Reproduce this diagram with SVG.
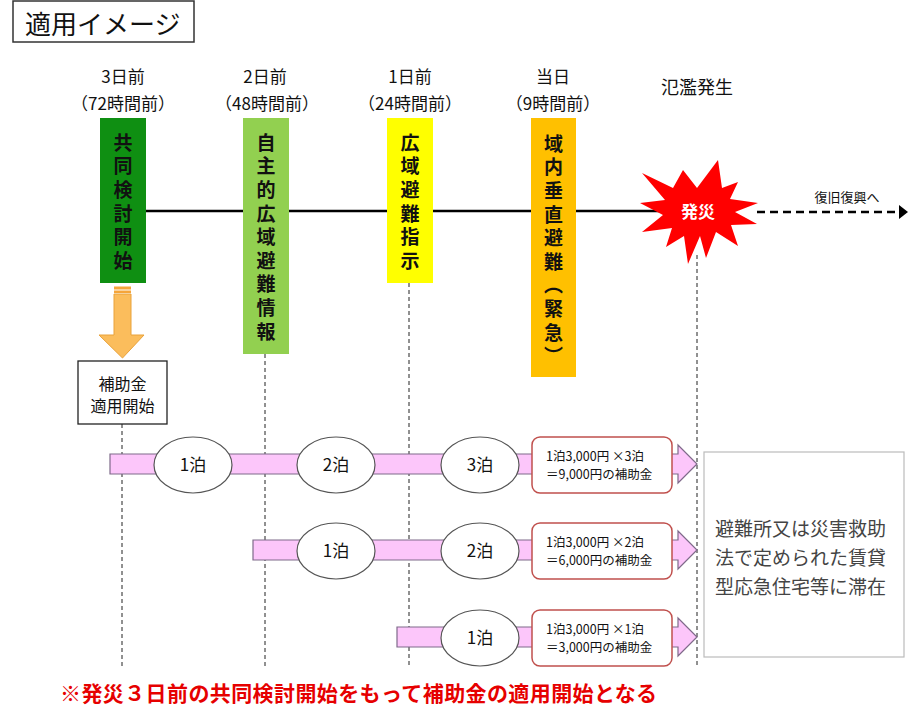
<svg xmlns="http://www.w3.org/2000/svg" width="915" height="718" viewBox="0 0 915 718">
<style>
text{font-family:"Noto Sans CJK JP","Noto Sans CJK SC",sans-serif;fill:#111}
.t{font-size:17px;text-anchor:middle}
.v{font-size:19px;font-weight:bold;writing-mode:vertical-rl;letter-spacing:4.6px}
.pill{fill:#fcc6fa;stroke:#7f6a8a;stroke-width:1.2}
.ell{fill:#fff;stroke:#555;stroke-width:1.2}
.el{font-size:17px;text-anchor:middle}
.calc{fill:#fff;stroke:#c0504d;stroke-width:1.5}
.ct{font-size:12.5px}
.dash{stroke:#222;stroke-width:1;stroke-dasharray:4 3;fill:none}
</style>
<rect width="915" height="718" fill="#fff"/>
<g id="title">
<rect x="13" y="1" width="181" height="41" fill="#fff" stroke="#333" stroke-width="1.5"/>
<text x="25" y="34" style="font-size:26px">適用イメージ</text>
</g>
<g id="labels">
<text class="t" x="123" y="83">3日前</text>
<text class="t" x="123" y="110">（72時間前）</text>
<text class="t" x="265" y="83">2日前</text>
<text class="t" x="267" y="110">（48時間前）</text>
<text class="t" x="410" y="83">1日前</text>
<text class="t" x="410" y="110">（24時間前）</text>
<text class="t" x="553" y="83">当日</text>
<text class="t" x="553" y="110">（9時間前）</text>
<text x="697" y="94" style="font-size:18px;text-anchor:middle">氾濫発生</text>
</g>
<g id="connectors">
<line x1="146" y1="211" x2="665" y2="211" stroke="#000" stroke-width="2.5"/>
<line x1="757" y1="212" x2="899" y2="212" stroke="#000" stroke-width="2.5" stroke-dasharray="8 5"/>
<polygon points="899,205 908,212 899,219" fill="#000"/>
<line class="dash" x1="122" y1="424" x2="122" y2="666"/>
<line class="dash" x1="265" y1="354" x2="265" y2="666"/>
<line class="dash" x1="409" y1="283" x2="409" y2="666"/>
<line class="dash" x1="697" y1="255" x2="697" y2="666"/>
</g>
<g id="box-kyodo">
<rect x="100" y="118" width="46" height="165" fill="#0f8f12"/>
<text class="v" x="123" y="133">共同検討開始</text>
</g>
<g id="box-jishu">
<rect x="243" y="118" width="46" height="236" fill="#92d050"/>
<text class="v" x="266" y="133">自主的広域避難情報</text>
</g>
<g id="box-koiki">
<rect x="387" y="118" width="46" height="165" fill="#ffff00"/>
<text class="v" x="410" y="133">広域避難指示</text>
</g>
<g id="box-ikinai">
<rect x="531" y="118" width="45" height="259" fill="#ffc000"/>
<text class="v" x="553.5" y="134">域内垂直避難（緊急）</text>
</g>
<g id="burst">
<polygon points="718,160 722,188 738,182 730,199 758,203 735,212 757,224 731,225 738,246 716,232 706,258 700,236 688,264 684,236 666,247 672,228 642,232 663,215 640,203 665,200 642,173 673,188 683,170 697,188" fill="#ff0000"/>
<text x="698" y="218" style="font-size:17px;font-weight:bold;fill:#fff;text-anchor:middle">発災</text>
<text x="847" y="202" style="font-size:13px;text-anchor:middle">復旧復興へ</text>
</g>
<g id="down-arrow">
<polygon points="114,294 131,294 131,335 144,335 122.5,358 99,335 114,335" fill="#fbbd5c" stroke="#e9a23a" stroke-width="1"/>
<rect x="114" y="286.5" width="17" height="3" fill="#f5a53a"/>
<rect x="114" y="290.5" width="17" height="2.5" fill="#f5a53a"/>
</g>
<g id="box-hojokin">
<rect x="78" y="361" width="89" height="63" fill="#fff" stroke="#222" stroke-width="1.3"/>
<text x="122.5" y="390" style="font-size:16px;text-anchor:middle">補助金</text>
<text x="122.5" y="412" style="font-size:16px;text-anchor:middle">適用開始</text>
</g>
<g id="row1">
<polygon class="pill" points="110,454 678,454 678,445 697,464 678,483 678,474 110,474"/>
<ellipse class="ell" cx="193" cy="465" rx="39" ry="28"/>
<text class="el" x="193" y="471">1泊</text>
<ellipse class="ell" cx="336" cy="465" rx="39" ry="28"/>
<text class="el" x="336" y="471">2泊</text>
<ellipse class="ell" cx="480" cy="465" rx="39" ry="28"/>
<text class="el" x="480" y="471">3泊</text>
<rect class="calc" x="532" y="437" width="140" height="56" rx="8"/>
<text class="ct" x="546" y="461">1泊3,000円 ×3泊</text>
<text class="ct" x="546" y="479.3">＝9,000円の補助金</text>
</g>
<g id="row2">
<polygon class="pill" points="253,540 678,540 678,531 697,550 678,569 678,560 253,560"/>
<ellipse class="ell" cx="336" cy="551" rx="39" ry="28"/>
<text class="el" x="336" y="557">1泊</text>
<ellipse class="ell" cx="480" cy="551" rx="39" ry="28"/>
<text class="el" x="480" y="557">2泊</text>
<rect class="calc" x="532" y="523" width="140" height="56" rx="8"/>
<text class="ct" x="546" y="547">1泊3,000円 ×2泊</text>
<text class="ct" x="546" y="565.3">＝6,000円の補助金</text>
</g>
<g id="row3">
<polygon class="pill" points="397,627 678,627 678,618 697,637 678,656 678,647 397,647"/>
<ellipse class="ell" cx="480" cy="638" rx="39" ry="28"/>
<text class="el" x="480" y="644">1泊</text>
<rect class="calc" x="532" y="610" width="140" height="56" rx="8"/>
<text class="ct" x="546" y="634">1泊3,000円 ×1泊</text>
<text class="ct" x="546" y="652.3">＝3,000円の補助金</text>
</g>
<g id="stay-box">
<rect x="704" y="452" width="200" height="205" fill="#fff" stroke="#bbb" stroke-width="1.2"/>
<text style="font-size:19px;fill:#444"><tspan x="715" y="536">避難所又は災害救助</tspan><tspan x="715" y="565">法で定められた賃貸</tspan><tspan x="715" y="594">型応急住宅等に滞在</tspan></text>
</g>
<g id="note">
<text x="60" y="701" style="font-size:21px;font-weight:bold;fill:#e60000;letter-spacing:0.4px">※発災３日前の共同検討開始をもって補助金の適用開始となる</text>
</g>
</svg>
